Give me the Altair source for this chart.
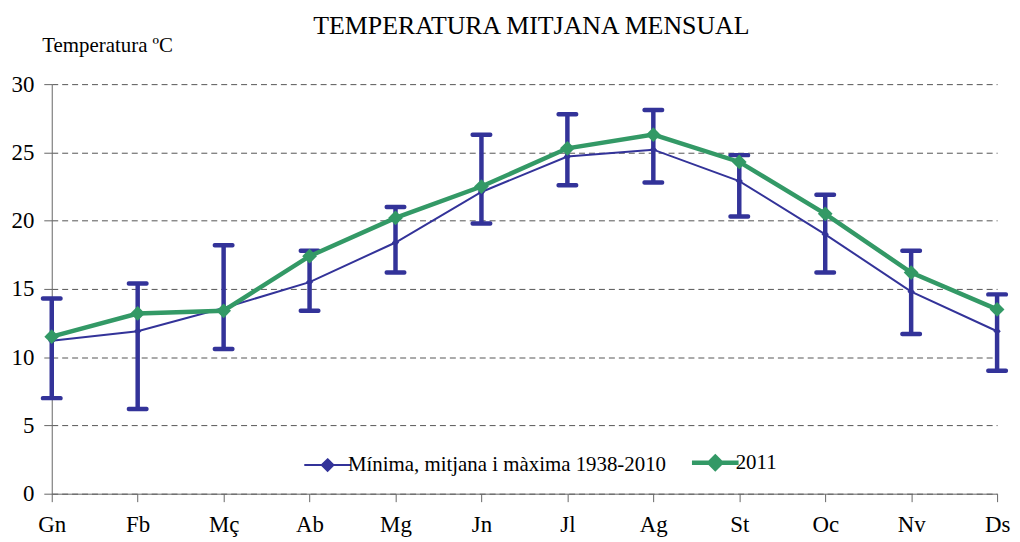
import altair as alt
import pandas as pd

months = ["Gn", "Fb", "Mç", "Ab", "Mg", "Jn", "Jl", "Ag", "St", "Oc", "Nv", "Ds"]
mean_hist = [11.2, 11.9, 13.6, 15.5, 18.4, 22.1, 24.7, 25.2, 22.9, 19.0, 14.8, 11.9]
min_hist = [7.0, 6.2, 10.6, 13.4, 16.2, 19.8, 22.6, 22.8, 20.3, 16.2, 11.7, 9.0]
max_hist = [14.3, 15.4, 18.2, 17.8, 21.0, 26.3, 27.8, 28.1, 24.8, 21.9, 17.8, 14.6]
y2011 = [11.5, 13.2, 13.4, 17.4, 20.2, 22.5, 25.3, 26.3, 24.3, 20.5, 16.2, 13.5]

S1 = "Mínima, mitjana i màxima 1938-2010"
S2 = "2011"
BLUE = "#333399"
GREEN = "#339966"
FONT = "Liberation Serif"

err = pd.DataFrame({"month": months, "lo": min_hist, "hi": max_hist})
lines = pd.DataFrame({
    "month": months * 2,
    "value": mean_hist + y2011,
    "series": [S1] * 12 + [S2] * 12,
})

xenc = alt.X("month:N", sort=months,
             scale=alt.Scale(type="point", padding=0),
             axis=alt.Axis(title=None, labelAngle=0, labelFont=FONT, labelFontSize=23,
                           labelColor="black", tickSize=8, tickColor="#666",
                           domainColor="#666", labelPadding=12, grid=False))
yscale = alt.Scale(domain=[0, 30], nice=False)

base_err = alt.Chart(err)
rule = base_err.mark_rule(color=BLUE, strokeWidth=4.5).encode(
    x=xenc,
    y=alt.Y("lo:Q", scale=yscale,
            axis=alt.Axis(values=[0, 5, 10, 15, 20, 25, 30], title="Temperatura ºC",
                          titleAngle=0, titleAlign="left", titleBaseline="alphabetic",
                          titleX=-10, titleY=-33, titleFont=FONT, titleFontSize=21,
                          titleFontWeight="normal", titleColor="black",
                          labelFont=FONT, labelFontSize=23, labelColor="black",
                          tickSize=8, tickColor="#666", domainColor="#666",
                          labelPadding=10, grid=True, gridColor="#555",
                          gridDash=[6, 4], gridWidth=1)),
    y2="hi:Q",
)
cap_lo = base_err.mark_tick(color=BLUE, size=22, thickness=4.5, cornerRadius=2, opacity=1).encode(
    x=alt.X("month:N", sort=months), y=alt.Y("lo:Q", scale=yscale))
cap_hi = base_err.mark_tick(color=BLUE, size=22, thickness=4.5, cornerRadius=2, opacity=1).encode(
    x=alt.X("month:N", sort=months), y=alt.Y("hi:Q", scale=yscale))

col_expr = "datum.value == '2011' ? '#339966' : '#333399'"
color = alt.Color(
    "series:N",
    scale=alt.Scale(domain=[S1, S2], range=[BLUE, GREEN]),
    legend=alt.Legend(
        orient="none", legendX=267, legendY=370, direction="horizontal", title=None,
        symbolType="M-1,0H1M0,-0.25L0.25,0L0,0.25L-0.25,0Z", symbolSize=2200,
        symbolFillColor={"expr": col_expr},
        symbolStrokeColor={"expr": col_expr},
        symbolStrokeWidth={"expr": "datum.value == '2011' ? 4.5 : 2"},
        symbolOpacity=1,
        labelFont=FONT, labelFontSize=21, labelColor="black", labelLimit=500,
        columnPadding=16, labelOffset=10,
    ),
)

base_l = alt.Chart(lines)
def series_layers(name, width, size):
    b = base_l.transform_filter(alt.datum.series == name)
    ln = b.mark_line(strokeWidth=width).encode(
        x=alt.X("month:N", sort=months),
        y=alt.Y("value:Q", scale=yscale),
        color=color,
    )
    pt = b.mark_point(shape="diamond", filled=True, opacity=1, size=size).encode(
        x=alt.X("month:N", sort=months),
        y=alt.Y("value:Q", scale=yscale),
        color=color,
    )
    return [ln, pt]

layers = [rule, cap_lo, cap_hi] + series_layers(S1, 2, 55) + series_layers(S2, 4.5, 220)

chart = alt.layer(*layers).properties(
    width=951, height=412,
    autosize=alt.AutoSizeParams(type="none"),
    padding={"left": 44, "top": 75, "right": 15, "bottom": 47},
    title=alt.TitleParams("TEMPERATURA MITJANA MENSUAL", font=FONT, fontSize=26,
                          fontWeight="normal", color="black", anchor="middle",
                          frame="group", offset=-5, dx=7),
).configure_view(stroke=None).configure_legend(padding=0)

chart.save("out.html", embed_options={"renderer": "svg", "actions": False})
